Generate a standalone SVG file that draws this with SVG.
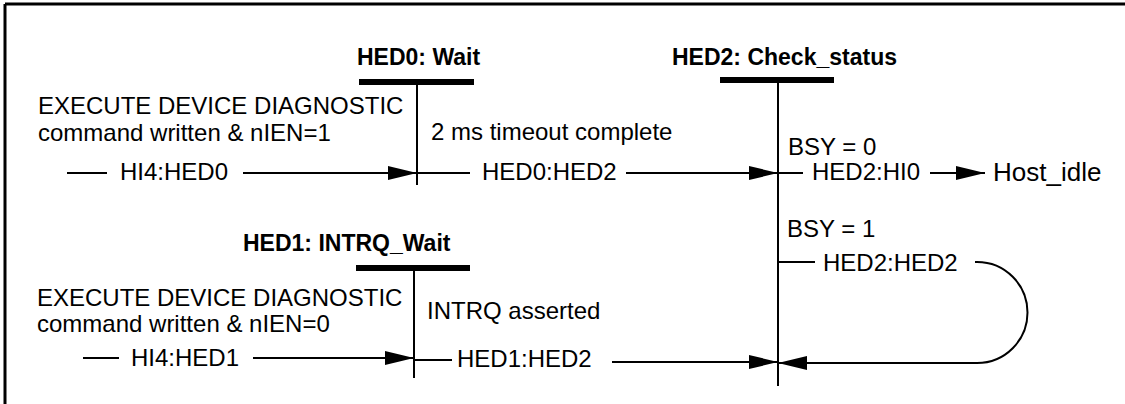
<svg xmlns="http://www.w3.org/2000/svg" width="1125" height="404" viewBox="0 0 1125 404">
<style>
.t{font-family:"Liberation Sans",Arial,sans-serif;font-size:24px;fill:#000}
.b{font-family:"Liberation Sans",Arial,sans-serif;font-size:23px;font-weight:bold;fill:#000}
.big{font-family:"Liberation Sans",Arial,sans-serif;font-size:26px;fill:#000}
.bar{stroke:#000;stroke-width:6}
.ln{stroke:#000;stroke-width:2;fill:none}
</style>
<defs>
<marker id="ah" markerUnits="userSpaceOnUse" markerWidth="30" markerHeight="14" refX="29" refY="7" orient="auto">
<path d="M0,0 L29,7 L0,14 Z" fill="#000"/>
</marker>
</defs>
<rect width="1125" height="404" fill="#fff"/>
<g id="frame">
<line x1="5" y1="4" x2="1125" y2="4" stroke="#000" stroke-width="3"/>
<line x1="5" y1="4" x2="5" y2="404" stroke="#000" stroke-width="3"/>
</g>
<g id="HED0">
<text class="b" x="357" y="65">HED0: Wait</text>
<line class="bar" x1="359" y1="82" x2="474" y2="82"/>
<line class="ln" x1="417" y1="82" x2="417" y2="185"/>
</g>
<g id="HED2">
<text class="b" x="672" y="65">HED2: Check_status</text>
<line class="bar" x1="720" y1="80" x2="834" y2="80"/>
<line class="ln" x1="778" y1="80" x2="778" y2="386"/>
</g>
<g id="HED1">
<text class="b" x="243" y="251">HED1: INTRQ_Wait</text>
<line class="bar" x1="356" y1="268" x2="470" y2="268"/>
<line class="ln" x1="414" y1="268" x2="414" y2="378"/>
</g>
<g id="Host_idle">
<text class="big" x="993" y="181">Host_idle</text>
</g>
<g id="connectors">
<text class="t" x="38" y="114">EXECUTE DEVICE DIAGNOSTIC</text>
<text class="t" x="38" y="141">command written &amp; nIEN=1</text>
<line class="ln" x1="67" y1="173" x2="107" y2="173"/>
<text class="t" x="120" y="180">HI4:HED0</text>
<line class="ln" x1="243" y1="173" x2="417" y2="173" marker-end="url(#ah)"/>

<text class="t" x="431" y="140">2 ms timeout complete</text>
<line class="ln" x1="417" y1="173" x2="470" y2="173"/>
<text class="t" x="482" y="180">HED0:HED2</text>
<line class="ln" x1="626" y1="173" x2="778" y2="173" marker-end="url(#ah)"/>

<text class="t" x="788" y="155">BSY = 0</text>
<line class="ln" x1="778" y1="173" x2="803" y2="173"/>
<text class="t" x="812" y="180">HED2:HI0</text>
<line class="ln" x1="930" y1="173" x2="985" y2="173" marker-end="url(#ah)"/>

<text class="t" x="787" y="237">BSY = 1</text>
<line class="ln" x1="778" y1="262" x2="815" y2="262"/>
<text class="t" x="823" y="271">HED2:HED2</text>
<path class="ln" d="M975,262 L977,262 A50.5,50.5 0 0 1 977,363 L778,363" marker-end="url(#ah)"/>

<text class="t" x="37" y="306">EXECUTE DEVICE DIAGNOSTIC</text>
<text class="t" x="37" y="332">command written &amp; nIEN=0</text>
<line class="ln" x1="83" y1="358" x2="119" y2="358"/>
<text class="t" x="131" y="366">HI4:HED1</text>
<line class="ln" x1="253" y1="358" x2="414" y2="358" marker-end="url(#ah)"/>

<text class="t" x="427" y="319">INTRQ asserted</text>
<line class="ln" x1="414" y1="360" x2="452" y2="360"/>
<text class="t" x="457" y="367">HED1:HED2</text>
<line class="ln" x1="612" y1="362" x2="778" y2="362" marker-end="url(#ah)"/>
</g>
</svg>
